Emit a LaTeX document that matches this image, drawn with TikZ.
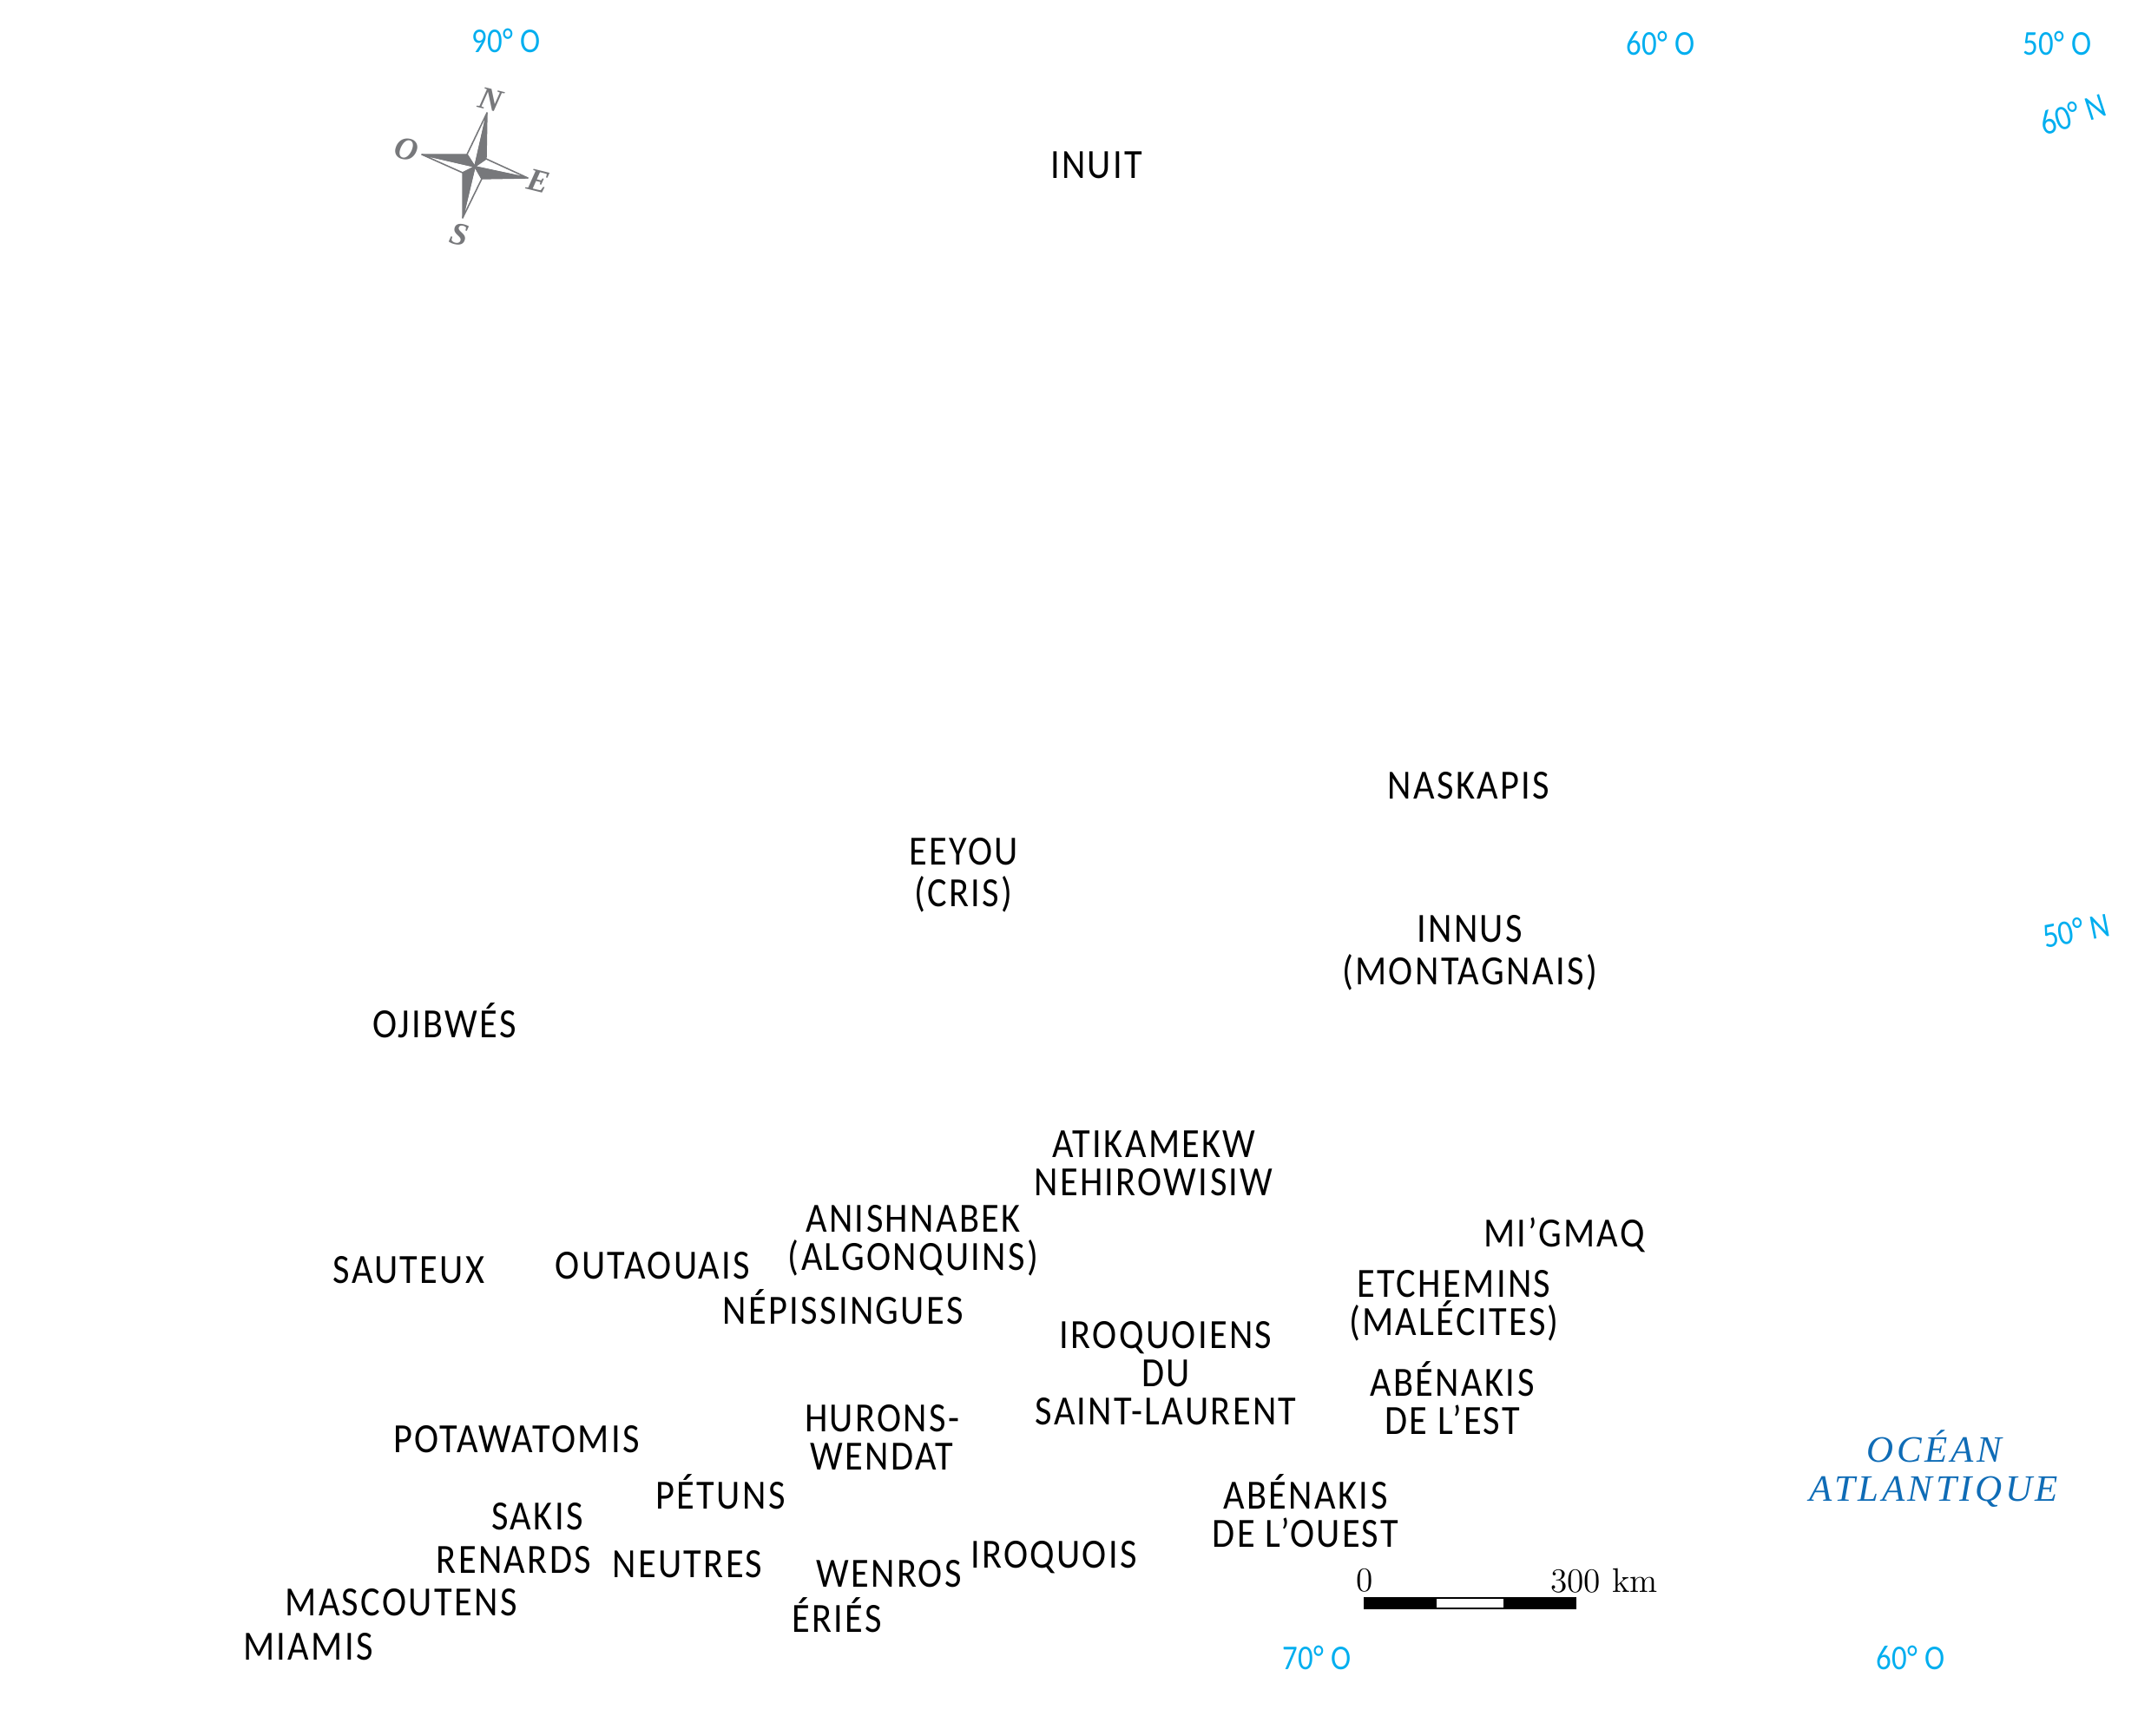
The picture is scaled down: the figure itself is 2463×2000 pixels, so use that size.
\documentclass[tikz,border=0pt]{standalone}
\usepackage{fontspec}
\setmainfont{Carlito}
\newfontfamily\peoplefont[LetterSpace=5,FakeStretch=0.885]{Carlito}
\newfontfamily\gridfont[FakeStretch=0.87]{Carlito}
\newfontfamily\oceanfont[LetterSpace=8.5]{Liberation Serif}
\newfontfamily\scalefont{Latin Modern Roman}
\newfontfamily\windfont{Liberation Serif}
\definecolor{gridblue}{HTML}{00AEEF}
\definecolor{oceanblue}{HTML}{0F6CB6}
\definecolor{compassgray}{HTML}{77787B}
\tikzset{
  people/.style={align=center, inner sep=0pt, font=\peoplefont\fontsize{13.6}{12.6}\selectfont},
  gridlabel/.style={inner sep=0pt, text=gridblue, font=\gridfont\fontsize{11.4}{12}\selectfont},
  ocean/.style={align=center, inner sep=0pt, text=oceanblue, font=\oceanfont\itshape\fontsize{12.2}{13}\selectfont},
  wind/.style={inner sep=0pt, text=compassgray, font=\windfont\bfseries\itshape\fontsize{10.5}{11}\selectfont},
  scaletext/.style={inner sep=0pt, font=\scalefont\fontsize{11.2}{12}\selectfont},
  halfdark/.style={fill=compassgray, draw=compassgray, line width=0.4pt, line join=round},
  halflight/.style={fill=white, draw=compassgray, line width=0.45pt, line join=round}
}
\begin{document}
\begin{tikzpicture}[x=0.01cm, y=-0.01cm]
  \useasboundingbox (0, 0) rectangle (2463, 2000);
  % peoples
  \node[people] (inuit) at (1263, 190) {INUIT};
  \node[people] (naskapis) at (1692, 905) {NASKAPIS};
  \node[people] (eeyou) at (1110, 1008) {EEYOU\\[1pt](CRIS)};
  \node[people] (innus) at (1693, 1098) {INNUS\\[1.3pt](MONTAGNAIS)};
  \node[people] (ojibwes) at (512, 1176) {OJIBWÉS};
  \node[people] (atikamekw) at (1329, 1340) {ATIKAMEKW\\NEHIROWISIW};
  \node[people] (anishnabek) at (1052, 1429) {ANISHNABEK\\(ALGONQUINS)};
  \node[people] (migmaq) at (1802, 1423) {MI’GMAQ};
  \node[people] (sauteux) at (471, 1463) {SAUTEUX};
  \node[people] (outaouais) at (752, 1458) {OUTAOUAIS};
  \node[people] (nepissingues) at (971, 1506) {NÉPISSINGUES};
  \node[people] (etchemins) at (1675, 1504) {ETCHEMINS\\(MALÉCITES)};
  \node[people] (iroquoiens) at (1343, 1582) {IROQUOIENS\\DU\\SAINT-LAURENT};
  \node[people] (abenakisest) at (1673, 1611) {ABÉNAKIS\\DE L’EST};
  \node[people] (potawatomis) at (595, 1658) {POTAWATOMIS};
  \node[people] (hurons) at (1016, 1656) {HURONS-\\WENDAT};
  \node[people] (petuns) at (830, 1719) {PÉTUNS};
  \node[people] (sakis) at (619, 1747) {SAKIS};
  \node[people] (abenakisouest) at (1504, 1741) {ABÉNAKIS\\DE L’OUEST};
  \node[people] (renards) at (592, 1797) {RENARDS};
  \node[people] (neutres) at (792, 1802) {NEUTRES};
  \node[people] (wenros) at (1024, 1813) {WENROS};
  \node[people] (iroquois) at (1214, 1794) {IROQUOIS};
  \node[people] (mascoutens) at (462, 1846) {MASCOUTENS};
  \node[people] (miamis) at (355, 1897) {MIAMIS};
  \node[people] (eries) at (964, 1861) {ÉRIÉS};
  \node[ocean] (atlantique) at (2228, 1692) {OCÉAN\\ATLANTIQUE};
  % grid
  \node[gridlabel] (lon90) at (583, 47) {90° O};
  \node[gridlabel] (lon60n) at (1913, 50) {60° O};
  \node[gridlabel] (lon50) at (2370, 50) {50° O};
  \node[gridlabel, rotate=18] (lat60) at (2388, 132) {60° N};
  \node[gridlabel, rotate=11] (lat50) at (2392, 1072) {50° N};
  \node[gridlabel] (lon70) at (1517, 1910) {70° O};
  \node[gridlabel] (lon60s) at (2201, 1910) {60° O};
  % compass
  \coordinate (c) at (547, 192);
  \draw[halflight] (561, 130) -- (538, 178) -- (c) -- cycle;
  \fill[halfdark] (561, 130) -- (560, 183) -- (c) -- cycle;
  \draw[halflight] (608, 205) -- (560, 183) -- (c) -- cycle;
  \fill[halfdark] (608, 205) -- (555, 206) -- (c) -- cycle;
  \draw[halflight] (533, 251) -- (555, 206) -- (c) -- cycle;
  \fill[halfdark] (533, 251) -- (533, 199) -- (c) -- cycle;
  \draw[halflight] (486, 178) -- (533, 199) -- (c) -- cycle;
  \fill[halfdark] (486, 178) -- (538, 178) -- (c) -- cycle;
  \node[wind, rotate=-14] (north) at (565, 115) {N};
  \node[wind, rotate=-14] (east) at (620, 209) {E};
  \node[wind, rotate=-14] (south) at (529, 270) {S};
  \node[wind, rotate=-14] (west) at (468, 172) {O};
  % scale
  \node[scaletext] (zero) at (1572, 1821) {0};
  \node[scaletext] (km) at (1848, 1821) {300 km};
  \fill (1571, 1840) rectangle (1654, 1854);
  \fill (1733, 1840) rectangle (1816, 1854);
  \draw[line width=0.5pt] (1654, 1841) rectangle (1733, 1853);
\end{tikzpicture}
\end{document}
